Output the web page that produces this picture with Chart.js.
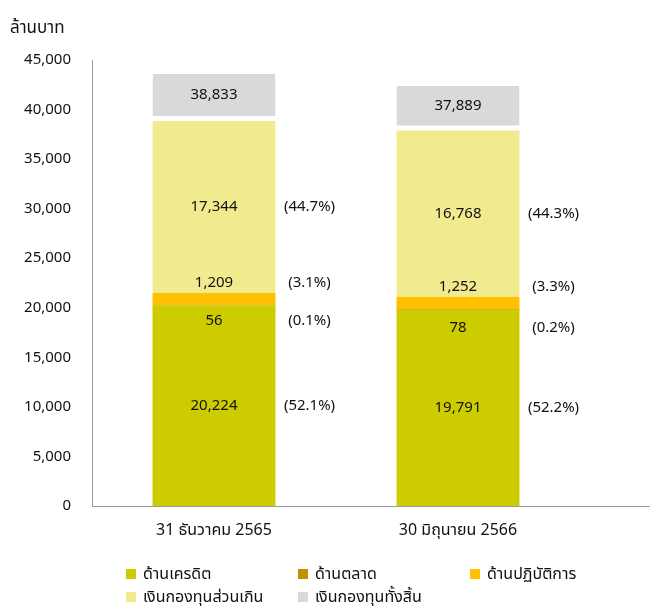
<!DOCTYPE html>
<html>
<head>
<meta charset="utf-8">
<script src="https://cdn.jsdelivr.net/npm/chart.js@4"></script>
<style>
  html, body { margin: 0; padding: 0; background: #fff; }
  #wrap { position: relative; width: 654px; height: 608px; }
</style>
</head>
<body>
<div id="wrap"><canvas id="graph" width="654" height="608"></canvas></div>
<script>
// values (ล้านบาท)
var periods = ['31 ธันวาคม 2565', '30 มิถุนายน 2566'];
var credit = [20224, 19791];
var market = [56, 78];
var operational = [1209, 1252];
var excess = [17344, 16768];
var totalCapital = [38833, 37889];
var totalBox = [4750, 4500];   // height of the grey total box above the stack
var pctCredit = ['52.1', '52.2'];
var pctMarket = ['0.1', '0.2'];
var pctOper = ['3.1', '3.3'];
var pctExcess = ['44.7', '44.3'];
var yTicks = [0, 5000, 10000, 15000, 20000, 25000, 30000, 35000, 40000, 45000];

var FONT = "Tahoma, 'Noto Sans', 'Noto Sans Thai', sans-serif";

function fmt(n) {
  return Number(n).toLocaleString('en-US');
}

// value + percent labels, the extended x axis, the y title and the legend
var labelPlugin = {
  id: 'labels',
  afterDatasetsDraw: function (chart) {
    var ctx = chart.ctx;
    var area = chart.chartArea;
    ctx.save();
    ctx.font = '15px ' + FONT;
    ctx.fillStyle = '#111';
    ctx.textAlign = 'center';
    ctx.textBaseline = 'middle';

    var pcts = [pctCredit, pctMarket, pctOper, pctExcess];
    chart.data.datasets.forEach(function (ds, i) {
      var meta = chart.getDatasetMeta(i);
      meta.data.forEach(function (bar, j) {
        var ly;
        if (i == 0) ly = (bar.y + bar.base) / 2;
        else if (i == 1) ly = bar.base + 15 + j * 3;
        else if (i == 2) ly = bar.y - 10;
        else if (i == 3) ly = (bar.y + bar.base) / 2;
        else ly = (bar.y + bar.base - 5) / 2;
        var txt = i == 4 ? fmt(totalCapital[j]) : fmt(ds.data[j]);
        ctx.fillText(txt, bar.x, ly);
        if (i < 4) {
          ctx.fillText('(' + pcts[i][j] + '%)', bar.x + bar.width / 2 + 34, ly);
        }
      });
    });

    // x axis line runs on past the plot
    ctx.strokeStyle = '#9a9a9a';
    ctx.lineWidth = 1;
    ctx.beginPath();
    ctx.moveTo(area.right, area.bottom + 0.5);
    ctx.lineTo(650, area.bottom + 0.5);
    ctx.stroke();

    // unit title
    ctx.textAlign = 'left';
    ctx.font = '17px ' + FONT;
    ctx.fillText('ล้านบาท', 10, 28);

    // legend in two rows
    ctx.font = '16px ' + FONT;
    var cols = [126, 298, 470];
    var rows = [574, 597];
    chart.data.datasets.forEach(function (ds, i) {
      var cx = cols[i % 3];
      var cy = rows[Math.floor(i / 3)];
      ctx.fillStyle = ds.legendColor;
      ctx.fillRect(cx, cy - 5, 10, 10);
      ctx.fillStyle = '#111';
      ctx.fillText(ds.label, cx + 17, cy);
    });
    ctx.restore();
  }
};

new Chart(document.getElementById('graph'), {
  type: 'bar',
  data: {
    labels: periods,
    datasets: [
      { label: 'ด้านเครดิต', data: credit, backgroundColor: '#CCCC00', legendColor: '#CCCC00' },
      { label: 'ด้านตลาด', data: market, backgroundColor: '#BF9000', legendColor: '#BF9000' },
      { label: 'ด้านปฏิบัติการ', data: operational, backgroundColor: '#FFC000', legendColor: '#FFC000' },
      { label: 'เงินกองทุนส่วนเกิน', data: excess, backgroundColor: '#F2EA8E', legendColor: '#F2EA8E' },
      {
        label: 'เงินกองทุนทั้งสิ้น', data: totalBox, backgroundColor: '#D9D9D9', legendColor: '#D9D9D9',
        borderColor: '#ffffff', borderWidth: { top: 0, left: 0, right: 0, bottom: 5 }, borderSkipped: false
      }
    ]
  },
  options: {
    responsive: false,
    animation: false,
    layout: { padding: { top: 60, right: 74, bottom: 0, left: 0 } },
    datasets: { bar: { barPercentage: 0.504, categoryPercentage: 1 } },
    plugins: {
      legend: { display: false },
      tooltip: { enabled: false }
    },
    scales: {
      x: {
        stacked: true,
        grid: { display: false, drawTicks: false },
        border: { color: '#9a9a9a' },
        ticks: { color: '#111', font: { size: 16, family: FONT }, padding: 15 },
        afterFit: function (s) { s.height = 102; }
      },
      y: {
        stacked: true,
        min: 0,
        max: 45000,
        afterBuildTicks: function (s) { s.ticks = yTicks.map(function (v) { return { value: v }; }); },
        grid: { display: false, drawTicks: false },
        border: { color: '#9a9a9a' },
        ticks: {
          color: '#111', font: { size: 15, family: FONT }, padding: 21,
          callback: function (v) { return fmt(v); }
        },
        afterFit: function (s) { s.width = 92; }
      }
    }
  },
  plugins: [labelPlugin]
});
</script>
</body>
</html>
